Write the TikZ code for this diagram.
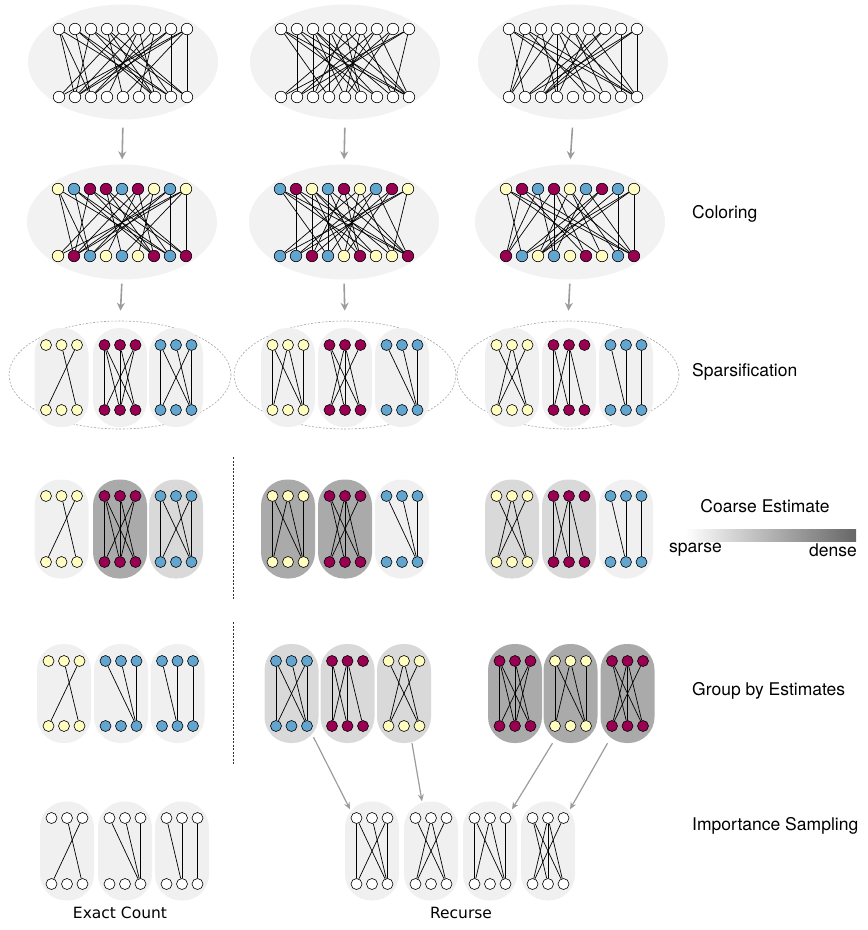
\documentclass[tikz,border=0pt]{standalone}
\usepackage{fontspec}
\setmainfont{TeX Gyre Heros}
\newfontfamily\djv{DejaVu Sans}
\usetikzlibrary{shapes.geometric,arrows.meta,calc}
\definecolor{cy}{HTML}{FFFDC0}
\definecolor{cb}{HTML}{62A6CF}
\definecolor{cm}{HTML}{9A0052}
\definecolor{cw}{HTML}{FFFFFF}
\definecolor{ellfill}{HTML}{F2F2F2}
\definecolor{shL}{HTML}{F0F0F0}
\definecolor{shM}{HTML}{D9D9D9}
\definecolor{shD}{HTML}{AAAAAA}
\definecolor{arrowgray}{HTML}{9C9C9C}
\tikzset{
  vtx/.style={circle,draw=black,line width=0.6pt,minimum size=11pt,inner sep=0pt},
  edge/.style={draw=black,line width=0.7pt},
  bigell/.style={ellipse,fill=ellfill,draw=none,minimum width=190pt,minimum height=115pt,inner sep=0pt},
  dashell/.style={ellipse,draw=black!35,dash pattern=on 2pt off 1.6pt,line width=0.6pt,minimum width=222pt,minimum height=108pt,inner sep=0pt},
  pill/.style={rectangle,rounded corners=26pt,draw=none,minimum width=54pt,minimum height=99pt,inner sep=0pt},
  garrow/.style={draw=arrowgray,line width=1.6pt,-{Stealth[length=8pt,width=8pt]}},
  thinarrow/.style={draw=arrowgray,line width=1.2pt,-{Stealth[length=7pt,width=6pt]}},
  sep/.style={draw=black!80,line width=0.7pt,dash pattern=on 2pt off 1.5pt},
  lbl/.style={font=\fontsize{17.5}{20}\selectfont,inner sep=0pt,text=black},
  lbldj/.style={font=\djv\fontsize{15.5}{18}\selectfont,inner sep=0pt,text=black},
}
\newcommand{\biggraph}[7]{%
  \foreach \c [count=\i] in {#5} {\node[vtx,fill=\c,minimum size=11.5pt] (#1t\i) at ({#2+16*(\i-1)},#3) {};}
  \foreach \c [count=\i] in {#6} {\node[vtx,fill=\c,minimum size=11.5pt] (#1b\i) at ({#2+16*(\i-1)},#4) {};}
  \foreach \a/\b in #7 {\draw[edge] (#1t\a) -- (#1b\b);}
}
\newcommand{\subg}[8]{%
  \node[pill,fill=#7] (#1) at (#2,{(#3+#4)/2}) {};
  \foreach \i in {1,2,3} {
    \node[vtx,fill=#5] (#1t\i) at ({#2+15.5*(\i-2)},#3) {};
    \node[vtx,fill=#6] (#1b\i) at ({#2+15.5*(\i-2)},#4) {};
  }
  \foreach \a/\b in #8 {\draw[edge] (#1t\a) -- (#1b\b);}
}
% edge sets of the nine colour classes
\def\gAY{2/3,3/1}
\def\gAM{1/1,1/2,1/3,2/2,2/3,3/1,3/2}
\def\gAB{1/1,1/3,2/3,3/1,3/3}
\def\gBY{1/1,1/3,2/1,2/3,3/3}
\def\gBM{1/2,1/3,2/1,2/2,2/3,3/1}
\def\gBB{1/3,2/3,3/3}
\def\gCY{1/3,2/1,2/3,3/1}
\def\gCM{1/1,1/2,2/1,2/2,2/3}
\def\gCB{1/2,2/2,3/3}
% full graphs
\def\EA{7/6,9/1,3/2,3/7,3/9,4/7,4/9,6/2,6/7,2/3,2/8,5/8,8/3,8/8,1/2,1/3,1/8,2/7,9/2,9/9,8/2,5/1,6/4,7/3,4/5,9/5}
\def\EB{3/5,3/8,6/5,6/8,9/8,2/6,2/9,5/3,5/6,5/9,8/3,1/4,4/4,7/4,2/2,3/3,9/1,9/2,1/7,4/9,6/1,7/2,8/5,7/9,3/7,4/6,1/9}
\def\EC{1/7,5/3,5/7,9/3,2/1,2/6,4/1,4/6,4/9,3/4,6/4,8/8,1/9,9/9,9/2,7/2,7/3,1/2,3/1,2/9,6/9,4/4,8/3,5/8}
\begin{document}
\begin{tikzpicture}[x=1pt,y=-1pt]
\useasboundingbox (0,0) rectangle (868,930);
% ---------- row 1
\node[bigell] (e1a) at (123,62) {};
\node[bigell] (e1b) at (345,62) {};
\node[bigell] (e1c) at (573,62) {};
\biggraph{pa}{59}{29}{97}{cw,cw,cw,cw,cw,cw,cw,cw,cw}{cw,cw,cw,cw,cw,cw,cw,cw,cw}{\EA}
\biggraph{pb}{281}{29}{97}{cw,cw,cw,cw,cw,cw,cw,cw,cw}{cw,cw,cw,cw,cw,cw,cw,cw,cw}{\EB}
\biggraph{pc}{509}{29}{97}{cw,cw,cw,cw,cw,cw,cw,cw,cw}{cw,cw,cw,cw,cw,cw,cw,cw,cw}{\EC}
% ---------- row 2
\node[bigell] (e2a) at (122,222) {};
\node[bigell] (e2b) at (344,222) {};
\node[bigell] (e2c) at (570,222) {};
\biggraph{qa}{58}{189}{256}{cy,cb,cm,cm,cb,cm,cy,cb,cy}{cy,cm,cb,cy,cb,cy,cm,cb,cm}{\EA}
\biggraph{qb}{280}{189}{256}{cb,cm,cy,cb,cm,cy,cb,cm,cy}{cb,cb,cm,cb,cy,cm,cy,cy,cm}{\EB}
\biggraph{qc}{506}{189}{256}{cy,cm,cb,cm,cy,cb,cm,cb,cy}{cm,cb,cy,cb,cy,cm,cy,cb,cm}{\EC}
\draw[garrow,shorten <=8pt,shorten >=5pt] (e1a.south) -- (e2a.north);
\draw[garrow,shorten <=8pt,shorten >=5pt] (e1b.south) -- (e2b.north);
\draw[garrow,shorten <=8pt,shorten >=5pt] (e1c.south) -- (e2c.north);
% ---------- row 3
\node[dashell] (d3a) at (120,375) {};
\node[dashell] (d3b) at (345,375) {};
\node[dashell] (d3c) at (568,375) {};
\draw[garrow,shorten <=4pt,shorten >=10pt] (e2a.south) -- (d3a.north);
\draw[garrow,shorten <=4pt,shorten >=10pt] (e2b.south) -- (d3b.north);
\draw[garrow,shorten <=4pt,shorten >=10pt] (e2c.south) -- (d3c.north);
\subg{s1}{61.5}{345}{410}{cy}{cy}{shL}{\gAY}
\subg{s2}{120}{345}{410}{cm}{cm}{shL}{\gAM}
\subg{s3}{176}{345}{410}{cb}{cb}{shL}{\gAB}
\subg{s4}{288}{345}{410}{cy}{cy}{shL}{\gBY}
\subg{s5}{345}{345}{410}{cm}{cm}{shL}{\gBM}
\subg{s6}{402}{345}{410}{cb}{cb}{shL}{\gBB}
\subg{s7}{512}{345}{410}{cy}{cy}{shL}{\gCY}
\subg{s8}{569}{345}{410}{cm}{cm}{shL}{\gCM}
\subg{s9}{626}{345}{410}{cb}{cb}{shL}{\gCB}
% ---------- row 4
\subg{c1}{61.5}{496}{562}{cy}{cy}{shL}{\gAY}
\subg{c2}{120}{496}{562}{cm}{cm}{shD}{\gAM}
\subg{c3}{176}{496}{562}{cb}{cb}{shM}{\gAB}
\subg{c4}{288}{496}{562}{cy}{cy}{shD}{\gBY}
\subg{c5}{345}{496}{562}{cm}{cm}{shD}{\gBM}
\subg{c6}{402}{496}{562}{cb}{cb}{shL}{\gBB}
\subg{c7}{512}{496}{562}{cy}{cy}{shM}{\gCY}
\subg{c8}{569}{496}{562}{cm}{cm}{shM}{\gCM}
\subg{c9}{626}{496}{562}{cb}{cb}{shL}{\gCB}
% ---------- row 5
\subg{g1}{64}{661}{726}{cy}{cy}{shL}{\gAY}
\subg{g2}{121}{661}{726}{cb}{cb}{shL}{\gBB}
\subg{g3}{177.5}{661}{726}{cb}{cb}{shL}{\gCB}
\subg{g4}{291.5}{661}{726}{cb}{cb}{shM}{\gAB}
\subg{g5}{347.5}{661}{726}{cm}{cm}{shM}{\gCM}
\subg{g6}{404}{661}{726}{cy}{cy}{shM}{\gCY}
\subg{g7}{515}{661}{726}{cm}{cm}{shD}{\gAM}
\subg{g8}{570.5}{661}{726}{cy}{cy}{shD}{\gBY}
\subg{g9}{627.5}{661}{726}{cm}{cm}{shD}{\gBM}
% ---------- row 6
\subg{r1}{67}{818}{884}{cw}{cw}{shL}{\gAY}
\subg{r2}{125}{818}{884}{cw}{cw}{shL}{\gBB}
\subg{r3}{182}{818}{884}{cw}{cw}{shL}{\gCB}
\subg{r4}{372}{818}{884}{cw}{cw}{shL}{\gAB}
\subg{r5}{431}{818}{884}{cw}{cw}{shL}{\gCY}
\subg{r6}{490}{818}{884}{cw}{cw}{shL}{\gBY}
\subg{r7}{548}{818}{884}{cw}{cw}{shL}{\gBM}
\draw[thinarrow] ($(g4.south)+(22,-6)$) -- ($(r4.north)+(-22,8)$);
\draw[thinarrow] ($(g6.south)+(8,0)$) -- ($(r5.north)+(-9,0)$);
\draw[thinarrow] ($(g8.south)+(-18,0)$) -- ($(r6.north)+(22,8)$);
\draw[thinarrow] ($(g9.south)+(-20,0)$) -- ($(r7.north)+(22,8)$);
% ---------- separators
\coordinate (sa1) at (233,457); \coordinate (sa2) at (233,600);
\coordinate (sb1) at (233,622); \coordinate (sb2) at (233,765);
\draw[sep] (sa1) -- (sa2);
\draw[sep] (sb1) -- (sb2);
% ---------- labels
\node[lbl,anchor=west] (lcol) at (692,214) {Coloring};
\node[lbl,anchor=west] (lspa) at (692,372) {Sparsification};
\node[lbl] (lcoa) at (765,506) {Coarse Estimate};
\node[minimum width=171pt,minimum height=12pt,inner sep=0pt,left color=white,right color=black!60] (bar) at (770.5,535) {};
\node[lbl,anchor=west] (lsp) at (669,550) {sparse};
\node[lbl,anchor=east] (lde) at (857,550) {dense};
\node[lbl,anchor=west] (lgrp) at (692,691) {Group by Estimates};
\node[lbl,anchor=west] (limp) at (692,826) {Importance Sampling};
\node[lbldj] (lex) at (120,913) {Exact Count};
\node[lbldj] (lrec) at (461,913) {Recurse};
\end{tikzpicture}
\end{document}
